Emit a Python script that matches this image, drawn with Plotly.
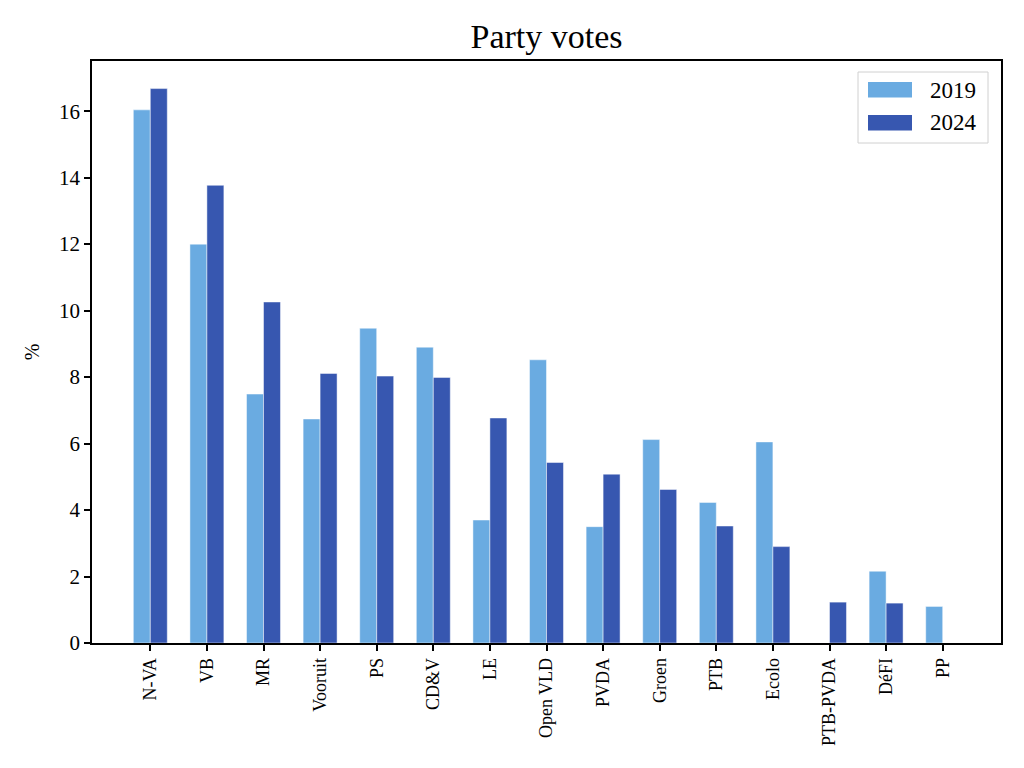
import plotly.graph_objects as go

parties = ["N-VA", "VB", "MR", "Vooruit", "PS", "CD&V", "LE", "Open VLD", "PVDA",
           "Groen", "PTB", "Ecolo", "PTB-PVDA", "DéFI", "PP"]
votes_2019 = [16.04, 12.00, 7.49, 6.74, 9.47, 8.90, 3.70, 8.52, 3.50, 6.12, 4.23, 6.05, 0.0, 2.16, 1.10]
votes_2024 = [16.68, 13.77, 10.26, 8.11, 8.03, 7.99, 6.77, 5.43, 5.08, 4.62, 3.52, 2.90, 1.23, 1.20, 0.0]
y_ticks = [0, 2, 4, 6, 8, 10, 12, 14, 16]
series_names = ["2019", "2024"]
series_colors = ["#6aabe1", "#3757b0"]

FONT = "Liberation Serif"
W, H = 1024, 768
# page body adds an 8px offset; compensate in margins
L, R, T, B = 84, 31, 53, 133

fig = go.Figure()
for name, vals, col in zip(series_names, [votes_2019, votes_2024], series_colors):
    fig.add_trace(go.Bar(x=parties, y=vals, name=name, marker_color=col, showlegend=False,
                         marker_line=dict(color="rgba(255,255,255,0.6)", width=0.8)))

# custom matplotlib-style legend (wide swatches)
pw, ph = W - L - R, H - T - B
def px(x):
    return (x - 8 - L) / pw
def py(y):
    return 1 - (y - 8 - T) / ph

shapes = [dict(type="rect", xref="paper", yref="paper", x0=px(858), x1=px(988), y0=py(143), y1=py(72),
               line=dict(color="#d0d0d0", width=1), fillcolor="rgba(255,255,255,0.8)", layer="above")]
annotations = []
for i, (name, col) in enumerate(zip(series_names, series_colors)):
    y0 = 82 + i * 33
    shapes.append(dict(type="rect", xref="paper", yref="paper", x0=px(868), x1=px(912),
                       y0=py(y0 + 15.5), y1=py(y0), line=dict(width=0), fillcolor=col, layer="above"))
    annotations.append(dict(text=name, xref="paper", yref="paper", x=px(928), y=py(y0 + 8),
                            xanchor="left", yanchor="middle", showarrow=False,
                            font=dict(family=FONT, size=23, color="black")))

fig.update_layout(
    width=W, height=H,
    barmode="group", bargap=0.4, bargroupgap=0,
    paper_bgcolor="white", plot_bgcolor="white",
    margin=dict(l=L, r=R, t=T, b=B, autoexpand=False),
    font=dict(family=FONT, color="black", size=18),
    title=dict(text="Party votes", x=px(546.5), xanchor="center", xref="paper",
               y=1 - 28 / H, yanchor="middle",
               font=dict(family=FONT, size=34, color="black")),
    shapes=shapes, annotations=annotations,
    xaxis=dict(type="category", range=[-1.03, 15.03], showline=True, linecolor="black",
               linewidth=1.5, mirror=True, ticks="outside", ticklen=6, tickwidth=1.5,
               tickcolor="black", tickangle=-90, tickfont=dict(family=FONT, size=18),
               showgrid=False, zeroline=False),
    yaxis=dict(range=[0, 17.51], tickvals=y_ticks, showline=True, linecolor="black",
               linewidth=1.5, mirror=True, ticks="outside", ticklen=6, tickwidth=1.5,
               tickcolor="black", tickfont=dict(family=FONT, size=21),
               showgrid=False, zeroline=False,
               title=dict(text="%", font=dict(family=FONT, size=20), standoff=14)),
)

fig.write_html("out.html")
